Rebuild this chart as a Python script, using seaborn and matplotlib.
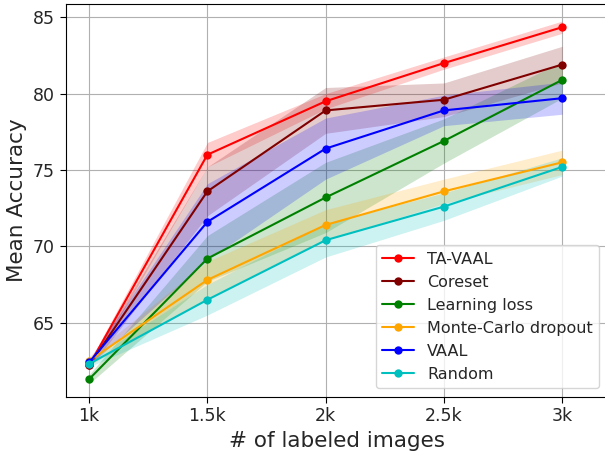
import numpy as np
import pandas as pd
import matplotlib
matplotlib.use("Agg")
import matplotlib.pyplot as plt
import seaborn as sns

# labeled-set sizes
budgets = [1000, 1500, 2000, 2500, 3000]
tick_labels = ["1k", "1.5k", "2k", "2.5k", "3k"]

methods = ["TA-VAAL", "Coreset", "Learning loss", "Monte-Carlo dropout", "VAAL", "Random"]

# mean accuracy per method
ta_vaal = [62.2, 76.0, 79.5, 82.0, 84.35]
coreset = [62.2, 73.6, 78.9, 79.6, 81.9]
learning_loss = [61.3, 69.2, 73.2, 76.9, 80.9]
mc_dropout = [62.5, 67.8, 71.4, 73.6, 75.5]
vaal = [62.4, 71.6, 76.4, 78.9, 79.7]
random_sel = [62.3, 66.5, 70.4, 72.6, 75.2]

# spread shown as the shaded band
ta_vaal_std = [0.2, 0.8, 0.5, 0.4, 0.4]
coreset_std = [0.2, 1.6, 1.5, 1.1, 1.2]
learning_loss_std = [0.3, 1.5, 2.3, 1.45, 1.2]
mc_dropout_std = [0.3, 1.2, 1.0, 0.8, 0.8]
vaal_std = [0.2, 2.5, 2.0, 1.0, 1.05]
random_std = [0.2, 1.0, 1.1, 0.9, 0.6]

means = [ta_vaal, coreset, learning_loss, mc_dropout, vaal, random_sel]
stds = [ta_vaal_std, coreset_std, learning_loss_std, mc_dropout_std, vaal_std, random_std]
colors = ["red", "#800000", "green", "orange", "blue", "#00bfbf"]

rows = []
for m, mu, sd in zip(methods, means, stds):
    for b, v, s in zip(budgets, mu, sd):
        rows.append({"budget": b, "acc": v, "std": s, "method": m})
df = pd.DataFrame(rows)

sns.set_style("ticks", rc={"axes.grid": True, "grid.color": "#b0b0b0",
                           "axes.edgecolor": "black", "grid.linewidth": 0.8})
plt.rcParams["font.family"] = ["DejaVu Sans"]

fig = plt.figure(figsize=(6.05, 4.53), dpi=100)
# right edge of the axes sits just past the figure, as in the cropped original
right_px = 609
ax = fig.add_axes([65.5 / 605, 56 / 453, (right_px - 65.5) / 605, 393 / 453])

for m, c in zip(methods, colors):
    d = df[df["method"] == m]
    ax.fill_between(d["budget"], d["acc"] - d["std"], d["acc"] + d["std"],
                    color=c, alpha=0.2, linewidth=0)
    sns.lineplot(data=d, x="budget", y="acc", color=c, marker="o",
                 markersize=6, markeredgewidth=0, linewidth=1.5, label=m, ax=ax)

ax.set_xlim(900, 900 + (right_px - 65.5) * 2000 / 473)
ax.set_ylim(60.13, 85.87)
ax.set_xticks(budgets)
ax.set_xticklabels(tick_labels)
ax.set_yticks([65, 70, 75, 80, 85])
ax.tick_params(labelsize=12.5, direction="out", length=4, width=0.8, color="black")
ax.set_xlabel("# of labeled images", fontsize=15.5)
ax.set_ylabel("Mean Accuracy", fontsize=15.5)

leg = ax.legend(loc="lower left", bbox_to_anchor=(376 / 605, 1 - 388 / 453),
                bbox_transform=fig.transFigure, fontsize=11.5, frameon=True,
                borderaxespad=0, handlelength=2.0)
leg.get_frame().set_edgecolor("#cccccc")

fig.savefig("out.png", dpi=100)
